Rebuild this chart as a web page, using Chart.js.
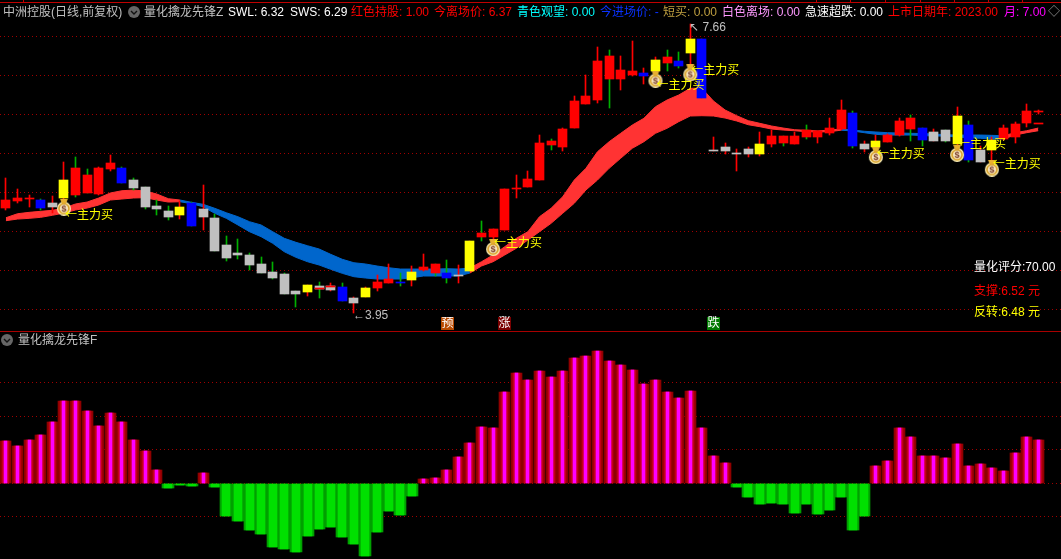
<!DOCTYPE html>
<html>
<head>
<meta charset="utf-8">
<title>量化擒龙先锋</title>
<script src="https://cdn.jsdelivr.net/npm/chart.js@4"></script>
<style>
html, body { margin: 0; background: #000; }
#page { position: relative; width: 1061px; height: 559px; overflow: hidden; background: #000;
  font: 12px "Liberation Sans", "Noto Sans CJK SC", sans-serif; }
#page canvas { position: absolute; left: 0; }
.t { position: absolute; white-space: nowrap; line-height: 14px; }
.tab { position: absolute; top: 0; width: 1px; height: 2px; background: #c00000; }
.line { position: absolute; left: 0; width: 1061px; height: 1px; }
.badge { position: absolute; top: 317px; width: 13px; height: 13px; line-height: 13px; text-align: center;
  color: #fff; font-size: 12px; }
svg { position: absolute; }
</style>
</head>
<body>
<div id="page">
  <canvas id="priceChart" width="1061" height="331" style="top:0"></canvas>
  <canvas id="scoreChart" width="1061" height="228" style="top:331px"></canvas>
  <div class="line" style="top:2px;background:#c00000"></div>
  <div class="line" style="top:331px;background:#a80000"></div>
  <svg style="left:128px;top:6px" width="12" height="12"><circle cx="6" cy="6" r="6" fill="#666"/><polyline points="3,5 6,8 9,5" fill="none" stroke="#111" stroke-width="1.4"/></svg>
  <svg style="left:1px;top:334px" width="12" height="12"><circle cx="6" cy="6" r="6" fill="#666"/><polyline points="3,5 6,8 9,5" fill="none" stroke="#111" stroke-width="1.4"/></svg>
  <span class="t" style="left:18px;top:333px;color:#c0c0c0">量化擒龙先锋F</span>
  <span class="t" style="left:974px;top:260px;color:#fff">量化评分:70.00</span>
  <span class="t" style="left:974px;top:284px;color:#f00">支撑:6.52 元</span>
  <span class="t" style="left:974px;top:305px;color:#ff0">反转:6.48 元</span>
  <span class="badge" style="left:441px;background:#b84a00">预</span>
  <span class="badge" style="left:498px;background:#7a0000">涨</span>
  <span class="badge" style="left:707px;background:#007a00">跌</span>
</div>
<script>
// candles
const highs = [5.68,5.54,5.47,5.41,5.45,5.89,5.95,5.80,5.82,5.98,5.82,5.68,5.57,5.40,5.32,5.39,5.38,5.59,5.22,4.94,
  4.90,4.72,4.67,4.61,4.47,4.23,4.31,4.35,4.34,4.34,4.16,4.29,4.44,4.58,4.47,4.55,4.71,4.58,4.63,4.57,
  4.88,5.13,5.03,5.54,5.72,5.77,6.23,6.18,6.32,6.73,7.00,7.36,7.32,7.25,7.44,7.09,7.23,7.32,7.30,7.66,
  7.47,6.21,6.13,6.05,6.08,6.27,6.30,6.22,6.27,6.36,6.29,6.45,6.68,6.54,6.16,6.23,6.25,6.45,6.49,6.32,
  6.31,6.30,6.59,6.41,6.09,6.21,6.36,6.40,6.63,6.55];
const lows = [5.27,5.36,5.31,5.27,5.23,5.40,5.44,5.49,5.47,5.77,5.62,5.53,5.29,5.21,5.14,5.16,5.07,5.02,4.75,4.62,
  4.64,4.50,4.47,4.39,4.20,4.03,4.17,4.14,4.23,4.11,3.95,4.16,4.23,4.34,4.30,4.30,4.49,4.43,4.34,4.34,
  4.49,4.88,4.89,5.02,5.43,5.57,5.66,6.04,6.03,6.32,6.63,6.64,6.58,6.81,6.99,6.89,7.04,7.06,7.09,7.07,
  6.71,6.03,5.99,5.77,5.95,5.97,6.08,6.09,6.12,6.18,6.13,6.23,6.30,6.07,6.02,6.04,6.14,6.22,6.16,6.09,
  6.16,6.14,6.08,5.89,5.89,5.85,6.17,6.13,6.34,6.50];
const bodyTops = [5.40,5.43,5.43,5.40,5.36,5.66,5.81,5.72,5.81,5.87,5.81,5.66,5.57,5.32,5.26,5.31,5.36,5.29,5.17,4.82,
  4.72,4.70,4.58,4.48,4.45,4.23,4.31,4.30,4.30,4.29,4.14,4.27,4.35,4.39,4.35,4.48,4.54,4.58,4.47,4.44,
  4.88,4.98,5.03,5.54,5.55,5.67,6.13,6.16,6.31,6.67,6.73,7.18,7.25,7.07,7.06,7.03,7.20,7.23,7.18,7.47,
  7.47,6.04,6.08,6.00,6.05,6.12,6.22,6.22,6.22,6.30,6.29,6.32,6.55,6.52,6.12,6.16,6.23,6.41,6.45,6.32,
  6.27,6.30,6.48,6.36,6.04,6.17,6.32,6.38,6.54,6.54];
const bodyBottoms = [5.30,5.39,5.41,5.30,5.31,5.43,5.47,5.49,5.48,5.80,5.62,5.55,5.31,5.29,5.18,5.21,5.07,5.18,4.75,4.66,
  4.70,4.57,4.47,4.40,4.20,4.20,4.22,4.26,4.25,4.11,4.08,4.16,4.27,4.34,4.34,4.38,4.50,4.47,4.40,4.43,
  4.49,4.93,4.93,5.02,5.54,5.57,5.66,6.11,6.08,6.32,6.63,6.68,6.95,6.95,7.00,6.99,7.06,7.16,7.12,7.29,
  6.71,6.03,6.03,5.99,5.99,5.99,6.12,6.13,6.12,6.21,6.21,6.26,6.31,6.09,6.05,6.08,6.14,6.23,6.31,6.17,
  6.16,6.16,6.12,5.91,5.89,6.04,6.18,6.21,6.39,6.53];
const bodyKinds = ['r','r','r','b','w','y','r','r','r','r','b','w','w','w','w','y','b','w','w','w',
  'w','w','w','w','w','w','y','w','w','b','w','y','r','r','b','y','r','r','b','w',
  'y','r','r','r','r','r','r','r','r','r','r','r','r','r','r','b','y','r','b','y',
  'b','w','w','w','w','y','r','r','r','r','r','r','r','b','w','y','r','r','r','b',
  'w','w','y','b','w','y','r','r','r','r'];
const greenWicks = [3,6,7,10,11,12,13,14,16,18,19,20,21,22,23,24,25,27,29,34,37,38,41,47,52,57,58,67,69,73,78,79,81,83];
// thin red strips inside or next to a body
const stripIndex = [27,28,89];
const stripTops = [4.27,4.30,6.38];
const stripBottoms = [4.26,4.29,6.37];

// ribbon edges
const bandUpper = [5.174,5.225,5.243,5.256,5.269,5.298,5.350,5.375,5.427,5.491,5.520,5.529,5.516,5.478,5.418,5.401,5.371,5.346,5.295,5.238,
  5.187,5.123,5.081,4.995,4.910,4.859,4.815,4.773,4.705,4.641,4.597,4.581,4.555,4.533,4.516,4.516,4.516,4.516,4.520,4.516,
  4.529,4.610,4.696,4.802,4.910,4.995,5.187,5.295,5.443,5.657,5.807,6.020,6.148,6.256,6.362,6.448,6.597,6.683,6.747,6.833,
  6.833,6.670,6.555,6.482,6.418,6.384,6.350,6.324,6.302,6.295,6.286,6.298,6.311,6.298,6.282,6.273,6.264,6.260,6.256,6.253,
  6.247,6.238,6.234,6.234,6.234,6.230,6.225,6.264,6.289,6.324];
const bandLower = [5.136,5.157,5.166,5.179,5.205,5.234,5.273,5.298,5.337,5.401,5.414,5.427,5.431,5.401,5.375,5.379,5.354,5.315,5.231,5.166,
  5.081,4.995,4.931,4.846,4.738,4.666,4.610,4.568,4.513,4.461,4.418,4.401,4.388,4.388,4.388,4.405,4.427,4.427,4.427,4.427,
  4.465,4.555,4.610,4.696,4.782,4.888,4.995,5.102,5.231,5.359,5.529,5.657,5.807,5.936,6.064,6.148,6.256,6.320,6.405,6.478,
  6.482,6.478,6.452,6.414,6.366,6.341,6.311,6.298,6.289,6.277,6.273,6.277,6.296,6.286,6.264,6.243,6.234,6.234,6.234,6.228,
  6.221,6.221,6.209,6.200,6.192,6.183,6.183,6.234,6.264,6.289];
const blueRuns = [[16,40],[73,86]];

// 主力买 signals
const signalIndex = [5,42,56,59,75,82,85];
const signalPrices = [5.31,4.79,6.95,7.03,5.97,6.00,5.81];
const signalLabelPrices = [5.22,4.86,6.88,7.07,6.00,6.13,5.87];

const priceGrid = [4,4.5,5,5.5,6,6.5,7,7.5];

// lower panel
const scores = [12.6,11.1,12.9,14.4,18.3,24.6,24.6,21.6,17.1,21.0,18.3,12.9,9.7,4.0,-1.4,-0.5,-0.8,3.1,-1.1,-9.8,
  -11.2,-13.9,-15.1,-19.0,-19.6,-20.5,-15.7,-13.6,-13.0,-16.0,-18.1,-21.7,-14.5,-8.3,-9.5,-3.8,1.3,1.6,4.0,7.9,
  12.0,16.8,16.5,27.3,32.9,30.8,33.5,31.7,33.5,37.4,38.0,39.5,36.5,35.3,33.8,29.7,30.8,27.3,25.5,27.6,
  16.5,8.2,6.1,-1.1,-4.1,-6.2,-5.9,-6.2,-8.9,-6.2,-9.2,-8.0,-4.1,-13.9,-9.8,5.2,6.7,16.5,13.8,8.2,
  8.2,7.6,11.7,5.2,5.8,4.6,3.7,9.1,13.8,12.9];
const scoreGrid = [-10,0,10,20,30];

const headerItems = [
  ['中洲控股(日线,前复权)', 3, '#c0c0c0'],
  ['量化擒龙先锋Z', 144, '#c0c0c0'],
  ['SWL: 6.32', 228, '#fff'],
  ['SWS: 6.29', 290, '#fff'],
  ['红色持股: 1.00', 351, '#f00'],
  ['今离场价: 6.37', 434, '#f00'],
  ['青色观望: 0.00', 517, '#0ff'],
  ['今进场价: -', 600, '#0a32ff'],
  ['短买: 0.00', 663, '#c0a040'],
  ['白色离场: 0.00', 722, '#ff99ff'],
  ['急速超跌: 0.00', 805, '#fff'],
  ['上市日期年: 2023.00', 888, '#f00'],
  ['月: 7.00', 1004, '#f0f'],
  ['◇', 1048, '#999']
];
const tabTicks = [23,816,850,885,920,954,988,1022];

var page = document.getElementById('page');
headerItems.forEach(item => {
  var s = document.createElement('span');
  s.className = 't';
  s.textContent = item[0];
  s.style.left = item[1] + 'px';
  s.style.top = '5px';
  s.style.color = item[2];
  page.appendChild(s);
});
tabTicks.forEach(x => {
  var d = document.createElement('div');
  d.className = 'tab';
  d.style.left = x + 'px';
  page.appendChild(d);
});

const xMin = -0.51, xMax = 90.96;
const kindColors = { r: '#ff0000', b: '#0000ff', y: '#ffff00', w: '#c0c0c0' };
const RED_WICK = '#ff0000', GREEN_WICK = '#00b000';

function isBlue(i) {
  return blueRuns.some(run => i >= run[0] && i <= run[1]);
}
// neighbours are kept so the two colours join up
function bandSeries(edge, blue) {
  return edge.map((v, i) => {
    var on = isBlue(i) === blue || isBlue(i + 1) === blue && i + 1 < edge.length;
    return { x: i, y: on ? v : null };
  });
}
function bandDataset(edge, blue, fill) {
  var color = blue ? '#0066cc' : '#ff3333';
  return {
    type: 'line', data: bandSeries(edge, blue), borderColor: color, borderWidth: 1, pointRadius: 0,
    backgroundColor: color, fill: fill, order: 6, yAxisID: 'y', spanGaps: false
  };
}

// makes 1px bars land on whole pixels instead of blurring
const snapBars = {
  id: 'snapBars',
  afterDatasetsUpdate(chart) {
    chart.data.datasets.forEach((ds, n) => {
      var meta = chart.getDatasetMeta(n);
      if (meta.type !== 'bar') return;
      meta.data.forEach(el => {
        if (el.skip) return;
        var w = Math.round(el.width);
        el.x = w % 2 ? Math.floor(el.x) + 0.5 : Math.round(el.x);
        el.y = Math.round(el.y);
        el.base = Math.round(el.base);
        if (el.y === el.base) el.y -= 1;
      });
    });
  }
};

const priceLabels = {
  id: 'priceLabels',
  afterDatasetsDraw(chart) {
    var ctx = chart.ctx, x = chart.scales.x, y = chart.scales.y;
    ctx.save();
    ctx.textBaseline = 'middle';
    ctx.font = '12px "Noto Sans CJK SC"';
    ctx.fillStyle = '#ffff00';
    signalIndex.forEach((i, n) => {
      ctx.fillText('←主力买', x.getPixelForValue(i) + 1, y.getPixelForValue(signalLabelPrices[n]));
    });
    ctx.fillStyle = '#c0c0c0';
    ctx.font = '12px "Liberation Sans"';
    var hi = highs.indexOf(Math.max(...highs)), lo = lows.indexOf(Math.min(...lows));
    ctx.fillText('↖ ' + highs[hi].toFixed(2), x.getPixelForValue(hi) - 1, y.getPixelForValue(highs[hi]) + 4);
    ctx.fillText('←' + lows[lo].toFixed(2), x.getPixelForValue(lo) - 1, y.getPixelForValue(lows[lo]) + 2);
    ctx.restore();
  }
};

function makeBag() {
  var c = document.createElement('canvas');
  c.width = 16; c.height = 17;
  var g = c.getContext('2d');
  g.fillStyle = '#fff2b8';
  g.beginPath(); g.arc(8, 10, 7, 0, Math.PI * 2); g.fill();
  g.fillStyle = '#e8b030';
  g.beginPath(); g.moveTo(4, 0); g.lineTo(12, 0); g.lineTo(10, 5); g.lineTo(6, 5); g.closePath(); g.fill();
  g.fillStyle = '#d8a028';
  g.beginPath(); g.arc(8, 10, 5.8, 0, Math.PI * 2); g.fill();
  g.fillStyle = '#f8e8c0';
  g.beginPath(); g.arc(8, 10, 4.2, 0, Math.PI * 2); g.fill();
  g.fillStyle = '#7a3a28';
  g.font = 'bold 9px "Liberation Sans"';
  g.textAlign = 'center'; g.textBaseline = 'middle';
  g.fillText('$', 8, 10.5);
  return c;
}

function hiddenX() {
  return { type: 'linear', min: xMin, max: xMax, display: false, offset: false };
}
function gridY(min, max, grid) {
  return {
    type: 'linear', min: min, max: max,
    afterBuildTicks(scale) { scale.ticks = grid.map(v => ({ value: v })); },
    afterFit(scale) { scale.width = 0; },
    ticks: { display: false },
    grid: { color: '#a00000', drawTicks: false, lineWidth: 1 },
    border: { display: false, dash: [1, 3] }
  };
}
const baseOptions = {
  responsive: false,
  animation: false,
  events: [],
  layout: { padding: 0, autoPadding: false },
  plugins: { legend: { display: false }, tooltip: { enabled: false } }
};

new Chart(document.getElementById('priceChart').getContext('2d'), {
  type: 'bar',
  data: {
    datasets: [
      bandDataset(bandUpper, false, '+1'),
      bandDataset(bandLower, false, false),
      bandDataset(bandUpper, true, '+1'),
      bandDataset(bandLower, true, false),
      {
        label: 'wick', order: 4, grouped: false, barThickness: 1, minBarLength: 1,
        data: highs.map((h, i) => ({ x: i, y: [lows[i], h] })),
        backgroundColor: highs.map((h, i) => greenWicks.includes(i) ? GREEN_WICK : RED_WICK)
      },
      {
        label: 'body', order: 3, grouped: false, barThickness: 9, minBarLength: 1,
        data: bodyTops.map((t, i) => ({ x: i, y: [bodyBottoms[i], t] })),
        backgroundColor: bodyKinds.map(k => kindColors[k])
      },
      {
        label: 'strip', order: 2, grouped: false, barThickness: 9, minBarLength: 1,
        data: stripIndex.map((i, n) => ({ x: i, y: [stripBottoms[n], stripTops[n]] })),
        backgroundColor: '#ff0000'
      },
      {
        type: 'line', label: 'signal', order: 1, showLine: false, pointStyle: makeBag(),
        data: signalIndex.map((i, n) => ({ x: i, y: signalPrices[n] }))
      }
    ]
  },
  options: Object.assign({}, baseOptions, {
    scales: { x: hiddenX(), y: gridY(3.722, 7.965, priceGrid) }
  }),
  plugins: [snapBars, priceLabels]
});

// each score bar is a stack of narrower layers, which gives the shaded look
function scoreLayer(keep, width, color, order) {
  return {
    order: order, grouped: false, barThickness: width, backgroundColor: color,
    data: scores.map((v, i) => ({ x: i, y: keep(v) ? v : null }))
  };
}
const up = v => v > 0, down = v => v < 0;

new Chart(document.getElementById('scoreChart').getContext('2d'), {
  type: 'bar',
  data: {
    datasets: [
      scoreLayer(up, 11, '#900000', 8),
      scoreLayer(up, 7, '#c40018', 6),
      scoreLayer(up, 3, '#ff00ff', 5),
      scoreLayer(down, 12, '#00a000', 4),
      scoreLayer(down, 8, '#00e000', 3)
    ]
  },
  options: Object.assign({}, baseOptions, {
    scales: { x: hiddenX(), y: gridY(-22.6, 45.46, scoreGrid) }
  }),
  plugins: [snapBars]
});
</script>
</body>
</html>
